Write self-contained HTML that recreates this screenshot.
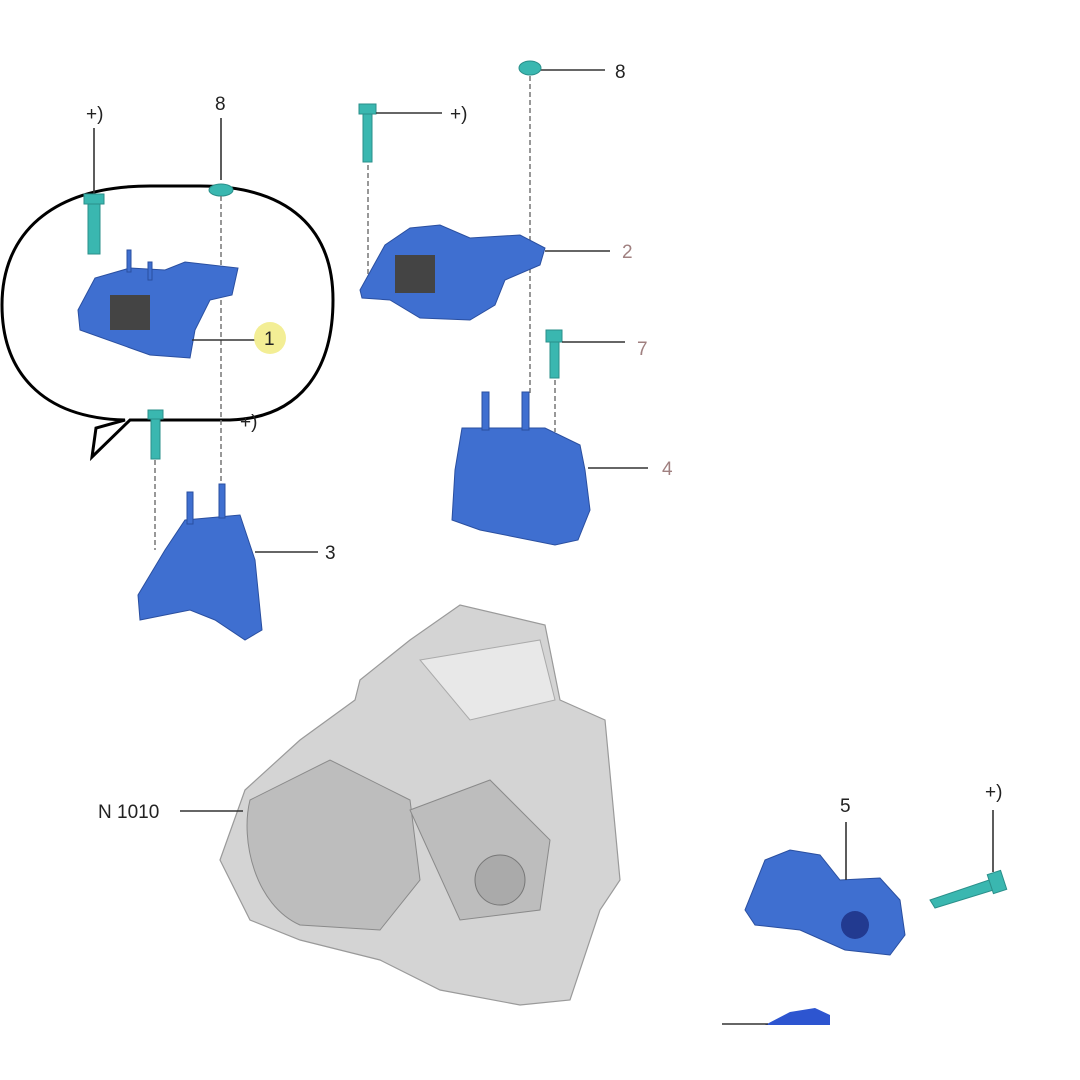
<!DOCTYPE html>
<html><head><meta charset="utf-8"><style>
html,body{margin:0;padding:0;background:#fff;}
svg{display:block}
text{font-family:"Liberation Sans",sans-serif;font-size:19px;fill:#222}
.l{stroke:#333;stroke-width:1.6;fill:none}
.d{stroke:#777;stroke-width:1.5;stroke-dasharray:5 3;fill:none}
.b{fill:#3f6fd0;stroke:#2a4fa0;stroke-width:1}
.b2{fill:#2f5cc0}
.t{fill:#3ab7b0;stroke:#2a8f8a;stroke-width:1}
.g{fill:#d4d4d4;stroke:#9a9a9a;stroke-width:1.2}
.g2{fill:#bdbdbd;stroke:#8a8a8a;stroke-width:1}
</style></head><body>
<svg width="1080" height="1080" viewBox="0 0 1080 1080">
<rect width="1080" height="1080" fill="#fff"/>
<!-- bubble -->
<path d="M125,420 C40,418 2,370 2,305 C2,235 50,186 150,186 L200,186 C290,186 333,230 333,300 C333,370 300,418 230,420 L130,420 L92,457 L96,428 Z" fill="none" stroke="#000" stroke-width="3"/>
<!-- part 1 -->
<line class="l" x1="94" y1="128" x2="94" y2="195"/>
<rect class="t" x="88" y="196" width="12" height="58"/><rect class="t" x="84" y="194" width="20" height="10"/>
<line class="l" x1="221" y1="118" x2="221" y2="180"/>
<ellipse class="t" cx="221" cy="190" rx="12" ry="6"/>
<line class="d" x1="221" y1="196" x2="221" y2="485"/>
<path class="b" d="M78,310 L95,278 L130,268 L165,270 L185,262 L238,268 L232,295 L210,300 L195,330 L190,358 L150,355 L80,330 Z"/>
<rect x="110" y="295" width="40" height="35" fill="#444"/>
<rect class="b" x="127" y="250" width="4" height="22"/><rect class="b" x="148" y="262" width="4" height="18"/>
<line class="l" x1="192" y1="340" x2="255" y2="340"/>
<circle cx="270" cy="338" r="16" fill="#f2ec8a" opacity=".9"/><text x="264" y="345">1</text>
<text x="86" y="120">+)</text><text x="215" y="110">8</text>
<!-- part 3 -->
<rect class="t" x="151" y="415" width="9" height="44"/><rect class="t" x="148" y="410" width="15" height="9"/>
<line class="d" x1="155" y1="460" x2="155" y2="550"/>
<text x="240" y="428">+)</text>
<path class="b" d="M185,520 L240,515 L255,560 L262,630 L245,640 L215,620 L190,610 L165,615 L140,620 L138,595 L165,550 Z"/>
<rect class="b" x="187" y="492" width="6" height="32"/><rect class="b" x="219" y="484" width="6" height="34"/>
<line class="l" x1="255" y1="552" x2="318" y2="552"/><text x="325" y="559">3</text>
<!-- part 2 -->
<rect class="t" x="363" y="110" width="9" height="52"/><rect class="t" x="359" y="104" width="17" height="10"/>
<line class="l" x1="376" y1="113" x2="442" y2="113"/><text x="450" y="120">+)</text>
<line class="d" x1="368" y1="165" x2="368" y2="285"/>
<line class="l" x1="540" y1="70" x2="605" y2="70"/><text x="615" y="78">8</text>
<ellipse class="t" cx="530" cy="68" rx="11" ry="7"/>
<line class="d" x1="530" y1="76" x2="530" y2="395"/>
<path class="b" d="M360,290 L385,245 L410,228 L440,225 L470,238 L520,235 L545,248 L540,265 L505,280 L495,305 L470,320 L420,318 L390,300 L362,298 Z"/>
<rect x="395" y="255" width="40" height="38" fill="#444"/>
<line class="l" x1="545" y1="251" x2="610" y2="251"/><text x="622" y="258" style="fill:#a08080">2</text>
<!-- part 7 -->
<rect class="t" x="550" y="338" width="9" height="40"/><rect class="t" x="546" y="330" width="16" height="12"/>
<line class="l" x1="562" y1="342" x2="625" y2="342"/><text x="637" y="355" style="fill:#a08080">7</text>
<line class="d" x1="555" y1="380" x2="555" y2="432"/>
<!-- part 4 -->
<path class="b" d="M462,428 L545,428 L580,445 L585,470 L590,510 L578,540 L555,545 L480,530 L452,520 L455,470 Z"/>
<rect class="b" x="482" y="392" width="7" height="38"/><rect class="b" x="522" y="392" width="7" height="38"/>
<line class="l" x1="588" y1="468" x2="648" y2="468"/><text x="662" y="475" style="fill:#a08080">4</text>
<!-- gearbox -->
<path class="g" d="M245,790 L300,740 L355,700 L360,680 L410,640 L460,605 L545,625 L560,700 L605,720 L620,880 L600,910 L570,1000 L520,1005 L440,990 L380,960 L300,940 L250,920 L220,860 Z"/>
<path class="g2" d="M250,800 C240,840 255,905 300,925 L380,930 L420,880 L410,800 L330,760 Z"/>
<path class="g2" d="M410,810 L490,780 L550,840 L540,910 L460,920 Z"/>
<circle cx="500" cy="880" r="25" fill="#aaa" stroke="#777"/>
<path d="M420,660 L540,640 L555,700 L470,720 Z" fill="#e8e8e8" stroke="#aaa"/>
<line class="l" x1="180" y1="811" x2="243" y2="811"/><text x="98" y="818">N 1010</text>
<!-- part 5 -->
<path class="b" d="M765,860 L790,850 L820,855 L840,880 L880,878 L900,900 L905,935 L890,955 L845,950 L800,930 L755,925 L745,910 Z" fill="#2d55d0"/>
<circle cx="855" cy="925" r="14" fill="#223a90"/>
<line class="l" x1="846" y1="822" x2="846" y2="880"/><text x="840" y="812">5</text>
<path class="t" d="M930,900 L995,878 L1000,888 L935,908 Z"/>
<rect class="t" x="990" y="872" width="14" height="20" transform="rotate(-18 997 882)"/>
<line class="l" x1="993" y1="810" x2="993" y2="872"/><text x="985" y="798">+)</text>
<!-- part 6 partial -->
<path d="M765,1025 L790,1012 L815,1008 L830,1015 L830,1025 Z" fill="#2d55d0"/>
<line class="l" x1="722" y1="1024" x2="768" y2="1024"/>
</svg>
</body></html>
